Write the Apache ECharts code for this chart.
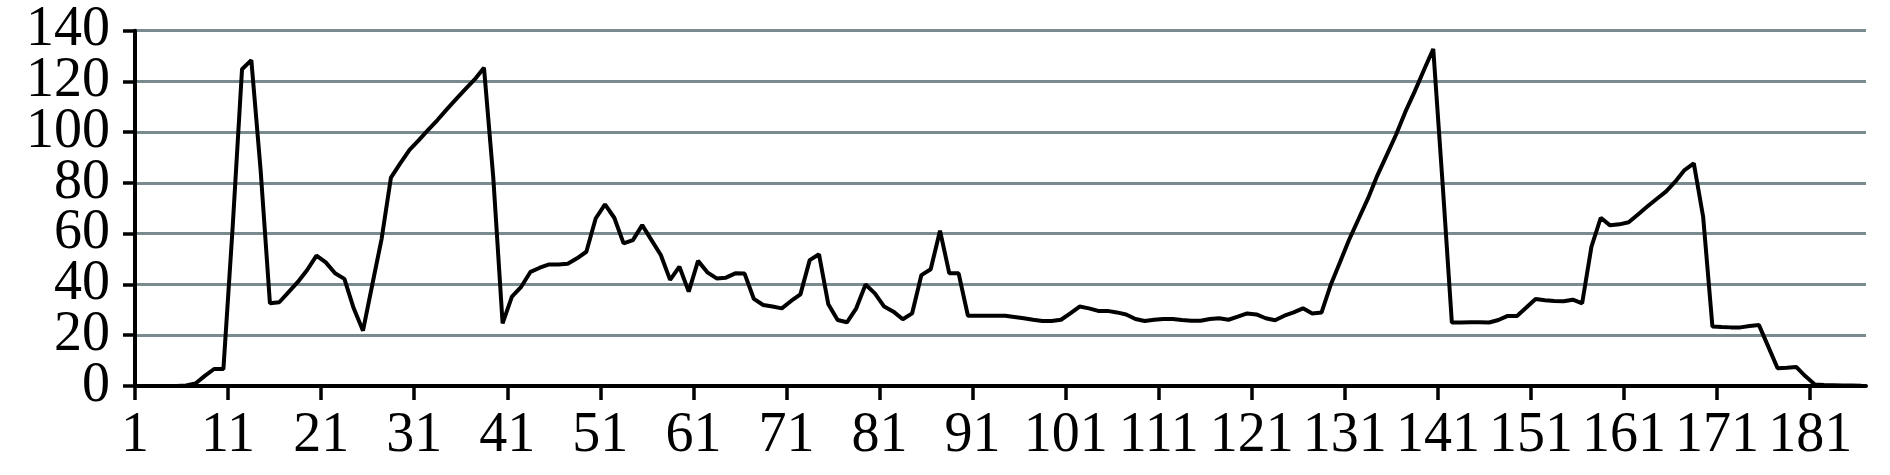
<!DOCTYPE html>
<html>
<head>
<meta charset="utf-8">
<script src="https://cdn.jsdelivr.net/npm/echarts@6/dist/echarts.min.js"></script>
<style>
  html, body { margin: 0; padding: 0; background: #fff; }
  #chart { width: 1890px; height: 475px; }
</style>
</head>
<body>
<div id="chart"></div>
<script>
// values, one per category (186 points)
var values = [
  0, 0, 0, 0, 0, 0.2, 1, 4, 6.7, 6.7,
  63, 124.8, 128.4, 85, 32.6, 33, 37, 41, 45.7, 51.4,
  48.7, 44.4, 42.2, 30.6, 21.8, 40, 58, 82.1, 87.7, 93,
  96.9, 100.9, 104.8, 109, 113, 117, 120.8, 125.4, 82, 24.7,
  35.2, 39.1, 45, 46.6, 47.9, 47.9, 48.2, 50.3, 52.9, 66,
  71.6, 66.3, 56.2, 57.5, 63.4, 57.5, 51.6, 41.8, 47, 37.2,
  49.3, 44.8, 42.4, 42.7, 44.4, 44.3, 34.3, 31.9, 31.3, 30.6,
  33.5, 36.1, 49.6, 51.9, 32.2, 26, 25.1, 30.6, 40, 36.5,
  31.3, 29.3, 26.3, 28.6, 43.7, 46, 61.2, 44.4, 44.4, 27.7,
  27.7, 27.7, 27.7, 27.7, 27.2, 26.7, 26.1, 25.6, 25.6, 26.1,
  28.6, 31.3, 30.6, 29.6, 29.6, 29, 28.2, 26.4, 25.6, 26.1,
  26.4, 26.4, 26, 25.7, 25.7, 26.4, 26.7, 26.1, 27.3, 28.6,
  28.2, 26.7, 25.9, 27.7, 29, 30.6, 28.6, 29, 40, 49,
  58, 66, 74, 83, 91, 99, 108, 116, 124.5, 132.8,
  80, 25, 25, 25.1, 25.1, 25, 26, 27.6, 27.6, 30.9,
  34.3, 33.8, 33.5, 33.4, 34, 32.6, 54.9, 66.3, 63.3, 63.7,
  64.5, 67.6, 70.7, 73.7, 76.6, 80.5, 85.1, 87.7, 66.7, 23.4,
  23.2, 23.1, 23.1, 23.6, 24, 15.5, 7, 7.2, 7.5, 3.8,
  0.6, 0.4, 0.3, 0.2, 0.2, 0.1
];

// categories the points sit in
var categories = [];
for (var i = 0; i < values.length; i++) categories.push(String(i + 1));

// x tick labels sit on the boundaries between categories (1, 11, 21 ... 181)
var tickLabels = [];
for (var j = 0; j <= values.length; j++) tickLabels.push(String(j + 1));

// y tick labels
var yLabels = ['0', '20', '40', '60', '80', '100', '120', '140'];
var yTicks = { min: 0, max: 140, step: 20 };

var font = "'Liberation Serif', 'Times New Roman', Times, serif";

var chart = echarts.init(document.getElementById('chart'), null, { renderer: 'canvas' });

var option = {
  animation: false,
  backgroundColor: '#fff',
  grid: { left: 135, right: 24, top: 30.7, bottom: 89, containLabel: false },
  xAxis: [
    {
      type: 'category',
      data: categories,
      boundaryGap: true,
      position: 'bottom',
      axisLine: { show: true, lineStyle: { color: '#000', width: 4 } },
      axisTick: { show: false },
      axisLabel: { show: false },
      splitLine: { show: false }
    },
    {
      type: 'category',
      data: tickLabels,
      boundaryGap: false,
      position: 'bottom',
      axisLine: { show: false },
      axisTick: { show: true, interval: 9, length: 14, lineStyle: { color: '#000', width: 3.5 } },
      axisLabel: {
        interval: 9,
        margin: 22,
        color: '#000',
        fontFamily: font,
        fontSize: 56
      },
      splitLine: { show: false }
    }
  ],
  yAxis: [
    {
      type: 'value',
      min: yTicks.min,
      max: yTicks.max,
      interval: yTicks.step,
      position: 'left',
      axisLine: { show: true, lineStyle: { color: '#000', width: 4 } },
      axisTick: { show: true, length: 12, lineStyle: { color: '#000', width: 3.5 } },
      axisLabel: { show: false },
      splitLine: { show: true, lineStyle: { color: '#7a8b90', width: 3 } }
    },
    {
      type: 'category',
      data: yLabels,
      boundaryGap: false,
      position: 'left',
      axisLine: { show: false },
      axisTick: { show: false },
      splitLine: { show: false },
      axisLabel: {
        interval: 0,
        margin: 25,
        color: '#000',
        fontFamily: font,
        fontSize: 56
      }
    }
  ],
  series: [{
    type: 'line',
    xAxisIndex: 0,
    yAxisIndex: 0,
    data: values,
    showSymbol: false,
    symbol: 'none',
    lineStyle: { color: '#000', width: 4 },
    z: 5
  }]
};

chart.setOption(option);
</script>
</body>
</html>
